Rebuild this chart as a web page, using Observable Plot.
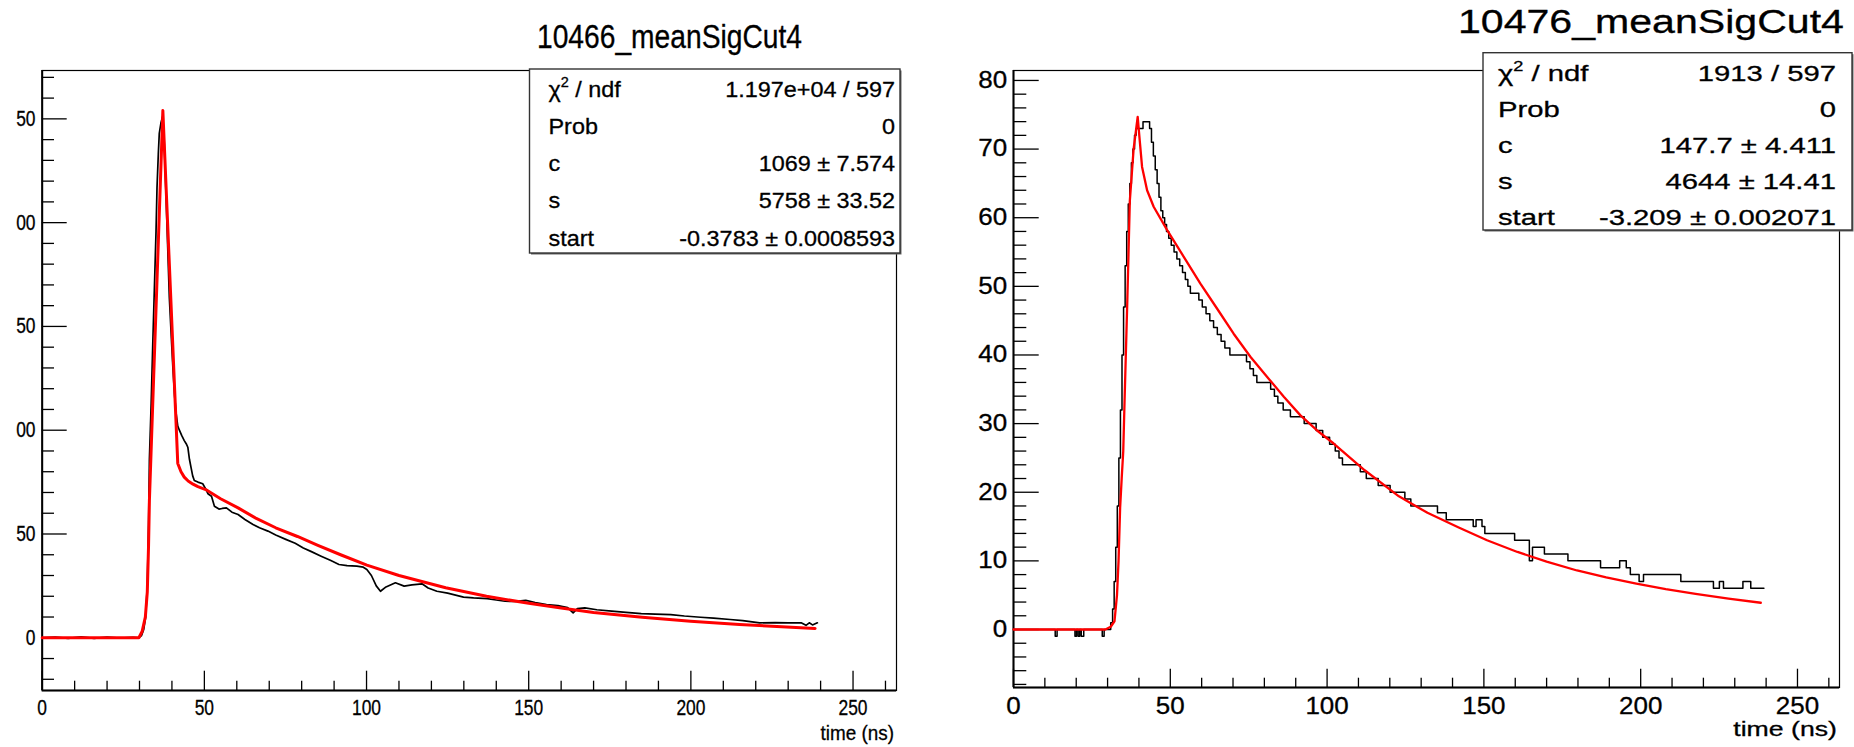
<!DOCTYPE html>
<html>
<head>
<meta charset="utf-8">
<script src="https://cdn.jsdelivr.net/npm/d3@7"></script>
<script src="https://cdn.jsdelivr.net/npm/@observablehq/plot@0.6"></script>
<style>
html,body{margin:0;padding:0;background:#fff;}
#wrap{position:relative;width:1854px;height:747px;overflow:hidden;background:#fff;}
#left{position:absolute;left:16px;top:0;width:914px;height:747px;overflow:hidden;}
#right{position:absolute;left:930px;top:0;width:924px;height:747px;overflow:hidden;}
#overlay{position:absolute;left:0;top:0;}
</style>
</head>
<body>
<div id="wrap">
  <div id="left"></div>
  <div id="right"></div>
  <svg id="overlay" width="1854" height="747"></svg>
</div>
<script>
const FONT = '"Liberation Sans", Arial, Helvetica, sans-serif';

// ---------- text ----------
const titles = ["10466_meanSigCut4", "10476_meanSigCut4"];
const xLabel = "time (ns)";
const statLabels = ["χ2 / ndf", "Prob", "c", "s", "start"];
const leftStatValues = ["1.197e+04 / 597", "0", "1069 ± 7.574", "5758 ± 33.52", "-0.3783 ± 0.0008593"];
const rightStatValues = ["1913 / 597", "0", "147.7 ± 4.411", "4644 ± 14.41", "-3.209 ± 0.002071"];

// ---------- axes ----------
const leftXDomain = [0, 263.4];
const leftYDomain = [-25.4, 273.3];
const rightXDomain = [0, 263.4];
const rightYDomain = [-8.45, 81.45];
const xMajorTicks = [0, 50, 100, 150, 200, 250];
const leftYMajorTicks = [0, 50, 100, 150, 200, 250];
// the left panel's y labels are cut at the picture's left edge; these are the visible parts
const leftYTickLabels = ["0", "50", "00", "50", "00", "50"];
const rightYMajorTicks = [0, 10, 20, 30, 40, 50, 60, 70, 80];
const xMinorTicks = d3.range(0, 264, 10).filter(v => v % 50 !== 0);
const leftYMinorTicks = d3.range(-20, 274, 10).filter(v => v % 50 !== 0);
const rightYMinorTicks = d3.range(-8, 82, 2).filter(v => v % 10 !== 0);

// ---------- left panel: data (black) ----------
const leftDataTime = [0,4,8,12,16,20,24,28,29.8,30.6,31.3,31.9,32.4,32.8,33.05,33.6,34.1,34.6,35.1,35.4,35.8,36.1,36.6,37.1,37.6,38.2,38.7,39.2,39.8,40.3,40.8,41.3,41.8,42.3,43.0,43.8,44.4,44.9,45.4,45.9,46.4,46.9,48.0,49.5,50.3,51.1,52.2,53.1,54.5,55.5,56.8,58.5,60.4,62.5,65,67,69.6,72,75.1,78,80.5,83,86,89,91.5,94,97,99,100.1,101.5,103,104.3,106,108.9,111.6,114,117.1,119,121.7,125,129.9,133,137.2,140,142.7,146,149.1,152,155.5,159,162,163.7,165,167.3,171,175.6,180,184.7,189,193.8,198,203,207,212.1,216,221.2,226,230,234,235.5,236.5,237.5,239];
const leftDataSignal = [0,0.3,-0.3,0.4,-0.3,0.3,-0.2,0.2,0,1,4,10,25,55,86,113,142,169,196,217,233,243,248,251,240,212,188,164,145,130,117,108,102,100,97.5,95,93.5,91.8,86,82,78,75.8,75,74.2,72,69.4,68.2,63.4,62,62.3,62.6,60.5,59.4,57,54.6,53,51.4,49.5,47.4,45.5,43.3,41.5,39.3,37.2,35.3,34.8,34.5,34,32.9,30,25,22.4,24.5,26.5,24.9,25.5,26,24,22.4,21.5,19.6,19.2,18.9,18.2,17.6,17.5,18,17,16,15.5,14.5,12,14,14.4,13.5,12.8,12.2,11.6,11.4,11.2,10.5,9.9,9.5,8.8,8.3,7.2,7.3,7.2,7.2,6,7.2,6.2,7.2];
// ---------- left panel: fit (red) ----------
const leftFitTime = [0,29.8,30.8,31.8,32.4,32.8,33.05,37.2,41.8,42.8,43.8,45.0,46.5,48,50.4,55,60.4,66,72,78.7,85,92,100.1,110,124.4,137,150,160,170,185,199.9,215,228,238.3];
const leftFitSignal = [0,0,3,10,22,45,66,254,84,80,77.4,75.5,74,72.8,71.4,67,62.6,57.5,53,48.8,44.5,40,35,30,24.1,20,16.6,14.3,12.2,9.9,8.0,6.4,5.3,4.5];

// ---------- right panel: data (black, stepped) ----------
const rightDataTime = [0,13.3,13.9,19.6,20.1,20.6,21.1,21.6,22.4,28.3,28.9,31.0,31.6,32.1,32.6,33.1,33.6,34.1,34.6,35.1,35.6,36.1,36.6,37.1,37.6,38.1,38.6,39.1,41.3,43.4,44.0,44.6,45.2,45.8,46.4,47.0,47.6,48.2,48.8,49.5,50.3,51.2,52.1,53.0,53.9,54.8,55.6,56.4,59.1,60.2,61.4,62.6,63.8,65.0,66.2,67.4,69.0,74.3,75.4,76.5,77.6,82.0,83.2,84.3,86.0,88.3,92.7,96.5,98.6,100.8,102.6,103.8,104.9,110.6,112.5,116.3,120.1,124.8,126.7,135.2,138.0,146.6,147.5,149.4,150.3,159.8,164.5,165.5,169.3,176.8,187.2,193.3,195.4,196.7,199.5,200.9,212.8,223.2,225.1,226.4,232.6,235.1,239.3];
const rightDataSignal = [0,-1,0,-1,0,-1,0,-1,0,-1,0,1,3,7,12,18,25,32,40,47,53,58,62,65,68,70,72,73,74,73,71,69,67,65,63,61,60,59,58,57,56,55,54,53,52,51,50,49,48,47,46,45,44,43,42,41,40,39,38,37,36,35,34,33,32,31,30,29,28,27,26,25,24,23,22,21,20,19,18,17,16,15,16,15,14,13,10,12,11,10,9,10,9,8,7,8,7,6,7,6,7,6,6];
// ---------- right panel: fit (red) ----------
const rightFitTime = [0,29.3,31.0,32.2,33.0,33.5,34.0,34.5,35.0,35.4,36.3,37.1,38.3,39.6,40.3,41.0,42.6,44.7,49,54.3,59.6,65,70.2,75.6,80.9,86.2,91.5,96.8,102.1,112,122.9,132,141.8,151,160.7,170,179.7,189,198.6,208,217.5,228,238.3];
const rightFitSignal = [0,0,0.4,1.2,5,10,17.7,22,26,33,48,62.5,70,74.7,71,67.4,64,61.6,58.2,54.3,50.4,46.7,43.1,39.7,36.8,33.9,31.2,29,27.1,23.2,19.4,17.0,14.9,13.0,11.3,9.9,8.6,7.6,6.7,5.9,5.2,4.5,3.9];

function scaleTextsIn(svg, s) {
  svg.querySelectorAll("text").forEach(t => {
    const x = parseFloat(t.getAttribute("x")) || 0;
    const tr = t.getAttribute("transform") || "";
    t.setAttribute("transform", `${tr} translate(${x},0) scale(${s},1) translate(${-x},0)`);
    t.setAttribute("stroke", "#000");
    t.setAttribute("stroke-width", "0.3");
  });
}

function makePanel(c) {
  const fw = c.width - c.marginLeft - c.marginRight;
  const fh = c.height - c.marginTop - c.marginBottom;
  const black = c.blackX.map((x, i) => ({x, y: c.blackY[i]}));
  const red = c.redX.map((x, i) => ({x, y: c.redY[i]}));
  const svg = Plot.plot({
    width: c.width, height: c.height,
    marginLeft: c.marginLeft, marginRight: c.marginRight,
    marginTop: c.marginTop, marginBottom: c.marginBottom,
    style: {fontFamily: FONT, fontSize: c.fontSize + "px", color: "#000", background: "#fff"},
    x: {domain: c.xDomain},
    y: {domain: c.yDomain},
    marks: [
      Plot.frame({stroke: "#000", strokeWidth: 1.2}),
      Plot.ruleX([c.xDomain[0]], {stroke: "#000", strokeWidth: 2}),
      Plot.ruleY([c.yDomain[0]], {stroke: "#000", strokeWidth: 2}),
      Plot.tickY(c.yMajor, {y: d => d, insetRight: fw - c.yMajorLen, stroke: "#000", strokeWidth: 1.3}),
      Plot.tickY(c.yMinor, {y: d => d, insetRight: fw - c.yMinorLen, stroke: "#000", strokeWidth: 1.3}),
      Plot.tickX(c.xMajor, {x: d => d, insetTop: fh - c.xMajorLen, stroke: "#000", strokeWidth: 1.3}),
      Plot.tickX(c.xMinor, {x: d => d, insetTop: fh - c.xMinorLen, stroke: "#000", strokeWidth: 1.3}),
      Plot.axisY(c.yMajor, {tickSize: 0, tickPadding: c.yPad, label: null, tickFormat: c.yFormat}),
      Plot.axisX(c.xMajor, {tickSize: 0, tickPadding: c.xPad, label: null}),
      Plot.line(black, {x: "x", y: "y", stroke: "#000", strokeWidth: c.blackWidth, curve: c.blackCurve}),
      Plot.line(red, {x: "x", y: "y", stroke: "#ff0000", strokeWidth: c.redWidth, curve: "linear"})
    ]
  });
  scaleTextsIn(svg, c.tickScale);
  return svg;
}

const leftLabelOf = new Map(leftYMajorTicks.map((v, i) => [v, leftYTickLabels[i]]));

document.getElementById("left").appendChild(makePanel({
  width: 914, height: 747, marginLeft: 25.7, marginRight: 34, marginTop: 70, marginBottom: 57,
  xDomain: leftXDomain, yDomain: leftYDomain,
  xMajor: xMajorTicks, xMinor: xMinorTicks, yMajor: leftYMajorTicks, yMinor: leftYMinorTicks,
  yMajorLen: 25, yMinorLen: 12.3, xMajorLen: 19.3, xMinorLen: 9.3,
  yPad: 6.7, xPad: 8.5, fontSize: 22, tickScale: 0.79, yFormat: d => leftLabelOf.get(d),
  blackX: leftDataTime, blackY: leftDataSignal, redX: leftFitTime, redY: leftFitSignal,
  blackWidth: 1.7, redWidth: 3, blackCurve: "linear"
}));

document.getElementById("right").appendChild(makePanel({
  width: 924, height: 747, marginLeft: 83, marginRight: 15, marginTop: 70, marginBottom: 60,
  xDomain: rightXDomain, yDomain: rightYDomain,
  xMajor: xMajorTicks, xMinor: xMinorTicks, yMajor: rightYMajorTicks, yMinor: rightYMinorTicks,
  yMajorLen: 25.7, yMinorLen: 13.3, xMajorLen: 18.3, xMinorLen: 9.3,
  yPad: 6.3, xPad: 10.3, fontSize: 23, tickScale: 1.13, yFormat: undefined,
  blackX: rightDataTime, blackY: rightDataSignal, redX: rightFitTime, redY: rightFitSignal,
  blackWidth: 1.5, redWidth: 2.3, blackCurve: "step-after"
}));

// ---------- overlay: titles, axis titles and fit-statistics boxes ----------
const ov = d3.select("#overlay");
function addText(str, x, y, size, sx, anchor) {
  return ov.append("text")
    .attr("transform", `translate(${x},${y}) scale(${sx},1)`)
    .attr("font-family", FONT).attr("font-size", size)
    .attr("text-anchor", anchor).attr("fill", "#000")
    .attr("stroke", "#000").attr("stroke-width", 0.3).text(str);
}
addText(titles[0], 537, 48, 33, 0.855, "start");
addText(titles[1], 1458, 33, 33, 1.245, "start");
addText(xLabel, 894, 740, 21, 0.9, "end");
addText(xLabel, 1837, 736, 21, 1.27, "end");

function statsBox(b, values) {
  ov.append("rect").attr("x", b.x + 1.5).attr("y", b.y + 1.5).attr("width", b.w).attr("height", b.h).attr("fill", "#666");
  ov.append("rect").attr("x", b.x).attr("y", b.y).attr("width", b.w).attr("height", b.h)
    .attr("fill", "#fff").attr("stroke", "#333").attr("stroke-width", 1.4);
  statLabels.forEach((lab, i) => {
    const y = b.base0 + b.step * i;
    if (i === 0) {
      const t = ov.append("text")
        .attr("transform", `translate(${b.labelX},${y}) scale(${b.sx},1)`)
        .attr("font-family", FONT).attr("font-size", b.size).attr("fill", "#000")
        .attr("stroke", "#000").attr("stroke-width", 0.3);
      t.append("tspan").text(lab.charAt(0));
      t.append("tspan").attr("font-size", b.size * 0.62).attr("dy", -b.size * 0.42).text(lab.charAt(1));
      t.append("tspan").attr("dy", b.size * 0.42).text(lab.slice(2));
    } else {
      addText(lab, b.labelX, y, b.size, b.sx, "start");
    }
    addText(values[i], b.valueX, y, b.size, b.sx, "end");
  });
}
statsBox({x: 529.5, y: 69, w: 370.5, h: 184, labelX: 548.5, valueX: 895, base0: 96.5, step: 37.25, size: 22.5, sx: 1.04}, leftStatValues);
statsBox({x: 1483, y: 52.7, w: 369, h: 177.3, labelX: 1498, valueX: 1836, base0: 80.5, step: 36.2, size: 22.5, sx: 1.3}, rightStatValues);
</script>
</body>
</html>
